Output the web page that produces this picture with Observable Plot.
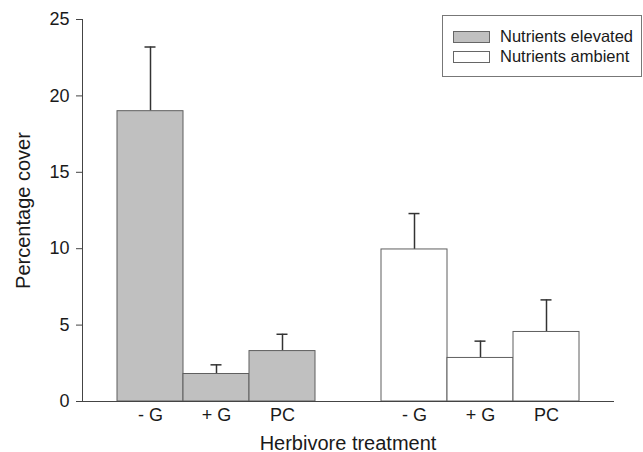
<!DOCTYPE html>
<html>
<head>
<meta charset="utf-8">
<script src="https://cdn.jsdelivr.net/npm/d3@7"></script>
<script src="https://cdn.jsdelivr.net/npm/@observablehq/plot@0.6"></script>
<style>
  html, body { margin: 0; padding: 0; background: #fff; }
  #wrap { position: relative; width: 643px; height: 452px; font-family: "Liberation Sans", Arial, sans-serif; }
  #wrap svg { position: absolute; left: 0; top: 0; }
  g[aria-label="y-axis label"] text, g[aria-label="x-axis label"] text { font-size: 20px; }
  #legend { position: absolute; left: 442px; top: 15px; width: 200px; height: 62px; border: 1px solid #777; box-sizing: border-box; background: #fff; }
  .row { position: absolute; left: 10px; display: flex; align-items: center; font-size: 16.5px; color: #1a1a1a; white-space: nowrap; }
  .sw { width: 37px; height: 12px; border: 1px solid #666; box-sizing: border-box; margin-right: 10px; }
</style>
</head>
<body>
<div id="wrap"><div id="legend"></div></div>
<script>
const treatments = ["- G", "+ G", "PC"];
const nutrients = ["Nutrients elevated", "Nutrients ambient"];
const elevatedMean = [19.0, 1.8, 3.3];
const elevatedUpper = [23.2, 2.4, 4.4];
const ambientMean = [9.95, 2.85, 4.55];
const ambientUpper = [12.3, 3.95, 6.65];
const yTicks = [0, 5, 10, 15, 20, 25];
const fills = ["#c0c0c0", "#ffffff"];

const groups = [
  {name: nutrients[0], mean: elevatedMean, upper: elevatedUpper},
  {name: nutrients[1], mean: ambientMean, upper: ambientUpper}
];
const data = [];
groups.forEach((g) => {
  treatments.forEach((t, i) => {
    data.push({key: g.name + "|" + t, treatment: t, nutrient: g.name, mean: g.mean[i], upper: g.upper[i]});
  });
});
const gapKey = "gap|";
const keys = [
  ...treatments.map(t => nutrients[0] + "|" + t),
  gapKey,
  ...treatments.map(t => nutrients[1] + "|" + t)
];

const chart = Plot.plot({
  width: 643,
  height: 452,
  marginLeft: 82,
  marginRight: 30,
  marginTop: 19,
  marginBottom: 51,
  style: {fontFamily: "'Liberation Sans', Arial, sans-serif", fontSize: "18px", color: "#1a1a1a", background: "transparent"},
  x: {type: "band", domain: keys, paddingInner: 0, paddingOuter: 0.5},
  y: {domain: [0, 25]},
  color: {domain: nutrients, range: fills},
  marks: [
    Plot.ruleX(data, {x: "key", y1: "mean", y2: "upper", stroke: "#333", strokeWidth: 1.5}),
    Plot.tickY(data, {x: "key", y: "upper", stroke: "#333", strokeWidth: 1.5, insetLeft: 27.5, insetRight: 27.5}),
    Plot.barY(data, {x: "key", y: "mean", fill: "nutrient", stroke: "#5f5f5f", strokeWidth: 1}),
    Plot.frame({anchor: "left", stroke: "#444"}),
    Plot.frame({anchor: "bottom", stroke: "#444"}),
    Plot.axisY({ticks: yTicks, tickSize: 6, tickPadding: 7, stroke: "#444", label: "Percentage cover", labelAnchor: "center", labelArrow: "none", labelOffset: 67}),
    Plot.axisX({ticks: keys.filter(k => k !== gapKey), tickFormat: d => d.split("|")[1], tickSize: 0, tickPadding: 7, label: "Herbivore treatment", labelAnchor: "center", labelArrow: "none", labelOffset: 48})
  ]
});
document.getElementById("wrap").prepend(chart);

const legend = document.getElementById("legend");
nutrients.forEach((n, i) => {
  const row = document.createElement("div");
  row.className = "row";
  row.style.top = (11 + i * 20) + "px";
  const sw = document.createElement("div");
  sw.className = "sw";
  sw.style.background = fills[i];
  const lab = document.createElement("span");
  lab.textContent = n;
  row.appendChild(sw);
  row.appendChild(lab);
  legend.appendChild(row);
});
</script>
</body>
</html>
